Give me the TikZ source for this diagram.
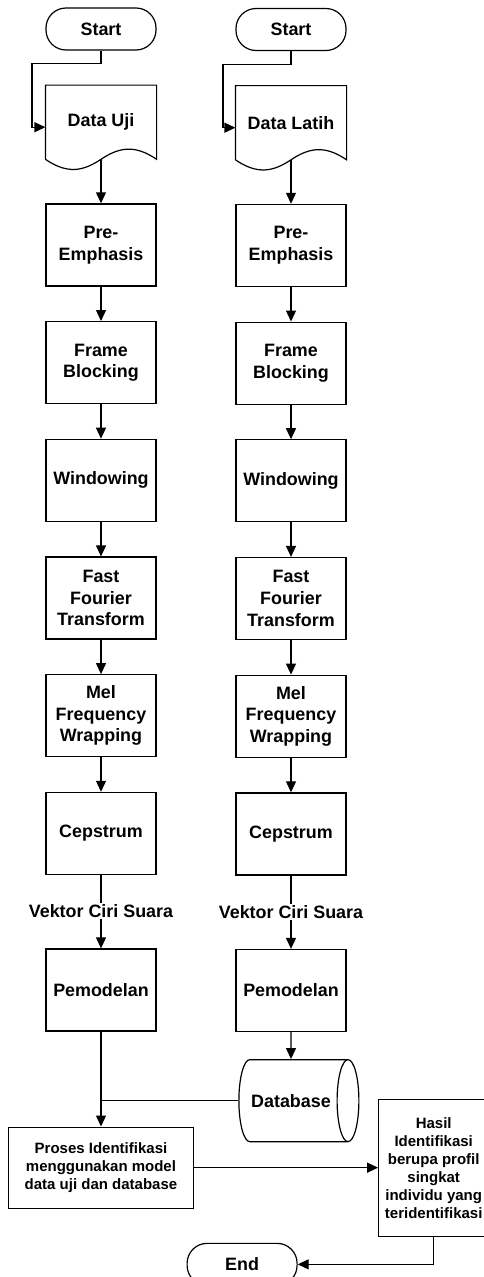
\documentclass[tikz,border=0pt]{standalone}
\usepackage{fontspec}
\setmainfont{Liberation Sans}
\usetikzlibrary{positioning, arrows.meta, shapes.geometric}

\begin{document}
\begin{tikzpicture}[
    line width=1.2pt,
    node distance=34.5pt, % default vertical distance between steps
    basefont/.style={font=\bfseries\fontsize{17.9pt}{21.7pt}\selectfont},
    termbox/.style={basefont, draw, rounded corners=20pt, minimum width=110pt, minimum height=42pt},
    procbox/.style={basefont, draw, align=center, minimum width=110pt, minimum height=82pt},
    docbox/.style={basefont, align=center, minimum width=110pt, minimum height=73pt},
    dbbox/.style={basefont, draw, cylinder, aspect=1.1, minimum width=82pt, minimum height=120pt},
    labelstyle/.style={basefont, inner sep=1pt},
    smallbox/.style={draw, align=center, font=\bfseries\fontsize{15pt}{18pt}\selectfont},
    arr/.style={-{Triangle[length=11pt, width=10pt]}}
]
\useasboundingbox (0,0) rectangle (484pt,-1277pt);

% Left column: test data
\node (startL) [termbox] at (101pt,-29pt) {Start};
\node (dataL) [docbox, below=of startL] {Data Uji};
\node (preL) [procbox, below=44pt of dataL] {Pre-\\Emphasis};
\node (frameL) [procbox, below=of preL] {Frame\\Blocking};
\node (winL) [procbox, below=of frameL] {Windowing};
\node (fftL) [procbox, below=of winL] {Fast\\Fourier\\Transform};
\node (melL) [procbox, below=of fftL] {Mel\\Frequency\\Wrapping};
\node (cepL) [procbox, below=of melL] {Cepstrum};
\node (vekL) [labelstyle, below=28pt of cepL] {Vektor Ciri Suara};
\node (pemL) [procbox, below=29pt of vekL] {Pemodelan};

% Right column: training data
\node (startR) [termbox] at (291pt,-29.5pt) {Start};
\node (dataR) [docbox, below=of startR] {Data Latih};
\node (preR) [procbox, below=44pt of dataR] {Pre-\\Emphasis};
\node (frameR) [procbox, below=of preR] {Frame\\Blocking};
\node (winR) [procbox, below=of frameR] {Windowing};
\node (fftR) [procbox, below=of winR] {Fast\\Fourier\\Transform};
\node (melR) [procbox, below=of fftR] {Mel\\Frequency\\Wrapping};
\node (cepR) [procbox, below=of melR] {Cepstrum};
\node (vekR) [labelstyle, below=28pt of cepR] {Vektor Ciri Suara};
\node (pemR) [procbox, below=29pt of vekR] {Pemodelan};
\node (dbR) [dbbox, below=27pt of pemR] {Database};

% Identification and result
\node (proses) [smallbox, minimum width=185pt, minimum height=81pt, below=95pt of pemL] {Proses Identifikasi\\menggunakan model\\data uji dan database};
\node (hasil) [smallbox, minimum width=110pt, minimum height=137pt, right=184pt of proses] {Hasil\\Identifikasi\\berupa profil\\singkat\\individu yang\\teridentifikasi};
\node (end) [termbox, below=34pt of proses.south east, xshift=48pt] {End};

% Document outlines with wavy bottom
\foreach \d in {dataL, dataR}
  \draw (\d.south west) -- (\d.north west) -- (\d.north east) -- (\d.south east)
    .. controls +(-22pt,15pt) and +(18pt,12pt) .. (\d.south)
    .. controls +(-18pt,-12pt) and +(22pt,-15pt) .. (\d.south west);

% Start to data
\draw[arr] (startL.south) |- ++(-69pt,-13pt) |- ([yshift=-5pt]dataL.west);
\draw[arr] (startR.south) |- ++(-68pt,-13pt) |- ([yshift=-5pt]dataR.west);

% Processing chains
\foreach \a/\b in {dataL/preL, preL/frameL, frameL/winL, winL/fftL, fftL/melL, melL/cepL, vekL/pemL,
                   dataR/preR, preR/frameR, frameR/winR, winR/fftR, fftR/melR, melR/cepR, vekR/pemR, pemR/dbR}
  \draw[arr] (\a) -- (\b);
\draw (cepL) -- (vekL);
\draw (cepR) -- (vekR);

% Matching
\draw[arr] (pemL) -- (proses);
\draw (dbR.west) -- (dbR.west -| pemL.south);
\draw[arr] (proses) -- (hasil);
\draw[arr] (hasil.south) |- (end.east);

\end{tikzpicture}
\end{document}
